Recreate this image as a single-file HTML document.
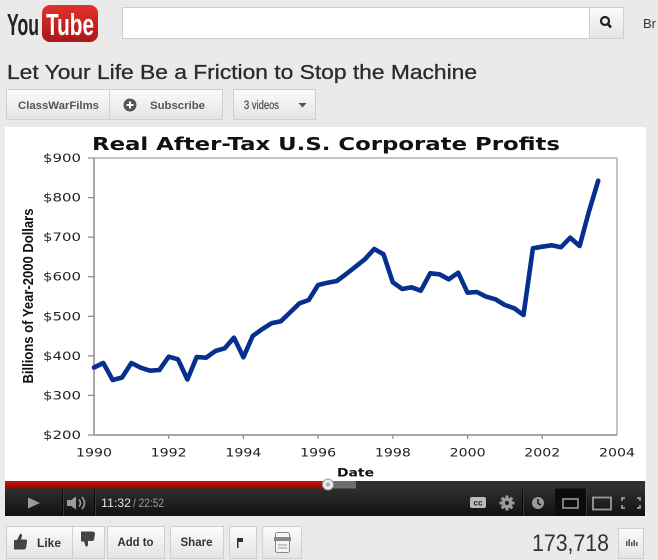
<!DOCTYPE html>
<html><head><meta charset="utf-8">
<style>
html,body{margin:0;padding:0;width:658px;height:560px;overflow:hidden;background:#eaeaea;}
svg{display:block}
</style></head><body>
<svg width="658" height="560" viewBox="0 0 658 560" xmlns="http://www.w3.org/2000/svg">
<defs>
 <linearGradient id="btn" x1="0" y1="0" x2="0" y2="1"><stop offset="0" stop-color="#fbfbfb"/><stop offset="1" stop-color="#e4e4e4"/></linearGradient>
 <linearGradient id="logo" x1="0" y1="0" x2="0" y2="1"><stop offset="0" stop-color="#e3322b"/><stop offset="1" stop-color="#a9161b"/></linearGradient>
 <linearGradient id="ctrl" x1="0" y1="0" x2="0" y2="1"><stop offset="0" stop-color="#2e2e2e"/><stop offset="1" stop-color="#121212"/></linearGradient>
 <linearGradient id="prog" x1="0" y1="0" x2="0" y2="1"><stop offset="0" stop-color="#d0120f"/><stop offset="1" stop-color="#8c0a07"/></linearGradient>
</defs>
<rect width="658" height="560" fill="#eaeaea"/>

<!-- Logo -->
<text x="7" y="35" font-family="Liberation Sans, sans-serif" font-weight="bold" font-size="31" fill="#222" textLength="32" lengthAdjust="spacingAndGlyphs">You</text>
<rect x="42" y="5" width="56" height="37" rx="8" fill="url(#logo)"/>
<text x="46" y="35" font-family="Liberation Sans, sans-serif" font-weight="bold" font-size="31" fill="#fff" textLength="48" lengthAdjust="spacingAndGlyphs">Tube</text>

<!-- Search -->
<rect x="122.5" y="7.5" width="467" height="31" fill="#fff" stroke="#cfcfcf"/>
<rect x="589.5" y="7.5" width="34" height="31" fill="url(#btn)" stroke="#cfcfcf"/>
<circle cx="605" cy="21" r="4" fill="none" stroke="#222" stroke-width="2.2"/>
<line x1="608" y1="24" x2="611" y2="27.5" stroke="#222" stroke-width="2.6"/>
<text x="643" y="28" font-family="Liberation Sans, sans-serif" font-size="13" fill="#333">Br</text>

<!-- Title -->
<text x="7" y="79" font-family="Liberation Sans, sans-serif" font-size="20" fill="#2b2b2b" stroke="#2b2b2b" stroke-width="0.3" textLength="470" lengthAdjust="spacingAndGlyphs">Let Your Life Be a Friction to Stop the Machine</text>

<!-- Channel buttons -->
<rect x="6.5" y="89.5" width="216" height="30" fill="url(#btn)" stroke="#d0d0d0"/>
<line x1="109.5" y1="90" x2="109.5" y2="119" stroke="#d0d0d0"/>
<text x="18" y="109" font-family="Liberation Sans, sans-serif" font-weight="bold" font-size="11" fill="#555" textLength="81" lengthAdjust="spacingAndGlyphs">ClassWarFilms</text>
<circle cx="130" cy="105" r="6.5" fill="#555"/>
<line x1="126.5" y1="105" x2="133.5" y2="105" stroke="#fff" stroke-width="2"/>
<line x1="130" y1="101.5" x2="130" y2="108.5" stroke="#fff" stroke-width="2"/>
<text x="150" y="109" font-family="Liberation Sans, sans-serif" font-weight="bold" font-size="11" fill="#555" textLength="55" lengthAdjust="spacingAndGlyphs">Subscribe</text>
<rect x="233.5" y="89.5" width="82" height="30" fill="url(#btn)" stroke="#d0d0d0"/>
<text x="244" y="109" font-family="Liberation Sans, sans-serif" font-size="11.5" fill="#555" stroke="#555" stroke-width="0.3" textLength="35" lengthAdjust="spacingAndGlyphs">3 videos</text>
<polygon points="298.5,103 306.5,103 302.5,107.5" fill="#555"/>

<!-- Video frame -->
<rect x="5" y="127" width="641" height="354" fill="#fff"/>

<!-- Chart -->
<text x="92" y="150" font-family="DejaVu Sans, Verdana, sans-serif" font-weight="bold" font-size="17.5" fill="#111" textLength="468" lengthAdjust="spacingAndGlyphs">Real After-Tax U.S. Corporate Profits</text>
<line x1="94" y1="158" x2="617" y2="158" stroke="#b0b0b0" stroke-width="1.5"/>
<line x1="617" y1="158" x2="617" y2="435" stroke="#b0b0b0" stroke-width="1.5"/>
<line x1="94" y1="158" x2="94" y2="435.5" stroke="#8a8a8a" stroke-width="1.5"/>
<line x1="94" y1="435" x2="617" y2="435" stroke="#8a8a8a" stroke-width="1.5"/>
<g stroke="#8a8a8a" stroke-width="1.2">
 <line x1="88" y1="158" x2="94" y2="158"/>
 <line x1="88" y1="197.6" x2="94" y2="197.6"/>
 <line x1="88" y1="237.1" x2="94" y2="237.1"/>
 <line x1="88" y1="276.7" x2="94" y2="276.7"/>
 <line x1="88" y1="316.3" x2="94" y2="316.3"/>
 <line x1="88" y1="355.9" x2="94" y2="355.9"/>
 <line x1="88" y1="395.4" x2="94" y2="395.4"/>
 <line x1="88" y1="435" x2="94" y2="435"/>
 <line x1="168.7" y1="435" x2="168.7" y2="439"/>
 <line x1="243.4" y1="435" x2="243.4" y2="439"/>
 <line x1="318.1" y1="435" x2="318.1" y2="439"/>
 <line x1="392.9" y1="435" x2="392.9" y2="439"/>
 <line x1="467.6" y1="435" x2="467.6" y2="439"/>
 <line x1="542.3" y1="435" x2="542.3" y2="439"/>
</g>
<g font-family="DejaVu Sans, Verdana, sans-serif" font-size="11.5" fill="#222" text-anchor="end">
 <text x="81" y="162" textLength="38" lengthAdjust="spacingAndGlyphs">$900</text>
 <text x="81" y="201.6" textLength="38" lengthAdjust="spacingAndGlyphs">$800</text>
 <text x="81" y="241.1" textLength="38" lengthAdjust="spacingAndGlyphs">$700</text>
 <text x="81" y="280.7" textLength="38" lengthAdjust="spacingAndGlyphs">$600</text>
 <text x="81" y="320.3" textLength="38" lengthAdjust="spacingAndGlyphs">$500</text>
 <text x="81" y="359.9" textLength="38" lengthAdjust="spacingAndGlyphs">$400</text>
 <text x="81" y="399.4" textLength="38" lengthAdjust="spacingAndGlyphs">$300</text>
 <text x="81" y="439" textLength="38" lengthAdjust="spacingAndGlyphs">$200</text>
</g>
<g font-family="DejaVu Sans, Verdana, sans-serif" font-size="11.5" fill="#222" text-anchor="middle">
 <text x="94" y="456.5" textLength="36" lengthAdjust="spacingAndGlyphs">1990</text>
 <text x="168.7" y="456.5" textLength="36" lengthAdjust="spacingAndGlyphs">1992</text>
 <text x="243.4" y="456.5" textLength="36" lengthAdjust="spacingAndGlyphs">1994</text>
 <text x="318.1" y="456.5" textLength="36" lengthAdjust="spacingAndGlyphs">1996</text>
 <text x="392.9" y="456.5" textLength="36" lengthAdjust="spacingAndGlyphs">1998</text>
 <text x="467.6" y="456.5" textLength="36" lengthAdjust="spacingAndGlyphs">2000</text>
 <text x="542.3" y="456.5" textLength="36" lengthAdjust="spacingAndGlyphs">2002</text>
 <text x="617" y="456.5" textLength="36" lengthAdjust="spacingAndGlyphs">2004</text>
</g>
<text x="355.5" y="476.5" font-family="DejaVu Sans, Verdana, sans-serif" font-weight="bold" font-size="11.5" fill="#111" text-anchor="middle" textLength="37" lengthAdjust="spacingAndGlyphs">Date</text>
<text transform="translate(33,296) rotate(-90)" font-family="Liberation Sans, sans-serif" font-weight="bold" font-size="14.5" fill="#111" text-anchor="middle" textLength="175" lengthAdjust="spacingAndGlyphs">Billions of Year-2000 Dollars</text>

<polyline fill="none" stroke="#07308e" stroke-width="4.6" stroke-linejoin="round" stroke-linecap="round" points="
94,367.5 103.3,363 112.7,380 122,377.5 131.4,363 140.7,367.7 150,370.7 159.4,370
168.7,356.7 178,359.3 187.4,379.5 196.7,357 206,357.7 215.4,351 224.7,348.3 234,337.7
243.4,357.3 252.7,336 262,329.3 271.4,323.3 280.8,321.3 290,312.5 299.5,303.3 308.8,300
318.1,285 327.5,282.7 336.8,281 346.2,274 355.5,266.7 364.8,259.3 374.2,249 383.5,254.3
392.8,282.3 402.2,289 411.5,287.3 420.8,290.7 430.2,273.3 439.5,274.3 448.8,279.3 458.2,272.7
467.5,292.7 476.9,292 486.2,296.7 495.5,299.3 504.9,305 514.2,308.3 523.5,315
532.9,248.3 542.2,246.7 551.6,245.3 560.9,247.3 570.2,237.7 579.6,246 588.9,211.7 598.2,180.7"/>

<!-- Progress bar -->
<rect x="5" y="481" width="640" height="7.5" fill="#303030"/>
<rect x="328" y="481" width="28" height="7.5" fill="#6e6e6e"/>
<rect x="5" y="481" width="323" height="7.5" fill="url(#prog)"/>
<!-- Control bar -->
<rect x="5" y="488.5" width="640" height="27.5" fill="url(#ctrl)"/>
<rect x="555" y="488.5" width="30" height="27.5" fill="#0c0c0c"/>
<g stroke-width="1">
 <line x1="62.5" y1="489" x2="62.5" y2="516" stroke="#0a0a0a"/><line x1="63.5" y1="489" x2="63.5" y2="516" stroke="#383838"/>
 <line x1="94.5" y1="489" x2="94.5" y2="516" stroke="#0a0a0a"/><line x1="95.5" y1="489" x2="95.5" y2="516" stroke="#383838"/>
 <line x1="522.5" y1="489" x2="522.5" y2="516" stroke="#0a0a0a"/><line x1="523.5" y1="489" x2="523.5" y2="516" stroke="#383838"/>
 <line x1="585.5" y1="489" x2="585.5" y2="516" stroke="#0a0a0a"/><line x1="586.5" y1="489" x2="586.5" y2="516" stroke="#383838"/>
</g>
<circle cx="328" cy="484.5" r="5.5" fill="#ececec" stroke="#9a9a9a" stroke-width="1"/>
<circle cx="328" cy="484.5" r="2" fill="#aaa"/>
<polygon points="28,497.5 40,503 28,508.5" fill="#9b9b9b"/>
<polygon points="67,500 71,500 76,496.5 76,509.5 71,506 67,506" fill="#9b9b9b"/>
<path d="M79,499.5 Q82,503 79,506.5" fill="none" stroke="#9b9b9b" stroke-width="1.6"/>
<path d="M82,497 Q87,503 82,509" fill="none" stroke="#9b9b9b" stroke-width="1.6"/>
<text x="101" y="507" font-family="Liberation Sans, sans-serif" font-size="12" fill="#e0e0e0" textLength="30" lengthAdjust="spacingAndGlyphs">11:32</text>
<text x="133" y="507" font-family="Liberation Sans, sans-serif" font-size="12" fill="#9a9a9a" textLength="31" lengthAdjust="spacingAndGlyphs">/ 22:52</text>
<rect x="470" y="497" width="16" height="11" rx="2" fill="#bbb"/>
<text x="478" y="505.5" font-family="Liberation Sans, sans-serif" font-weight="bold" font-size="8" fill="#222" text-anchor="middle">cc</text>
<circle cx="507" cy="503" r="5.5" fill="#9a9a9a"/>
<g stroke="#9a9a9a" stroke-width="3"><line x1="507" y1="495.5" x2="507" y2="510.5"/><line x1="499.5" y1="503" x2="514.5" y2="503"/><line x1="501.7" y1="497.7" x2="512.3" y2="508.3"/><line x1="512.3" y1="497.7" x2="501.7" y2="508.3"/></g>
<circle cx="507" cy="503" r="2" fill="#1e1e1e"/>
<circle cx="538" cy="503" r="6" fill="#9a9a9a"/>
<path d="M538,499 L538,503.5 L541,505" fill="none" stroke="#1e1e1e" stroke-width="1.6"/>
<rect x="563" y="499" width="15" height="9" fill="none" stroke="#8a8a8a" stroke-width="1.8"/>
<rect x="593" y="497.5" width="18" height="12" fill="none" stroke="#9a9a9a" stroke-width="1.8"/>
<g fill="none" stroke="#9a9a9a" stroke-width="1.8">
 <path d="M622,501 L622,498 L625,498"/><path d="M637,498 L640,498 L640,501"/>
 <path d="M622,505 L622,508 L625,508"/><path d="M637,508 L640,508 L640,505"/>
</g>

<!-- Bottom buttons -->
<g fill="url(#btn)" stroke="#cfcfcf">
 <rect x="6.5" y="526.5" width="98" height="32"/>
 <rect x="107.5" y="526.5" width="57" height="32"/>
 <rect x="170.5" y="526.5" width="53" height="32"/>
 <rect x="229.5" y="526.5" width="27" height="32"/>
 <rect x="262.5" y="526.5" width="39" height="32"/>
 <rect x="618.5" y="528.5" width="25" height="30"/>
</g>
<line x1="72.5" y1="527" x2="72.5" y2="558" stroke="#cfcfcf"/>
<path d="M14,540 L17,540 L20,534 Q22,533 22,536 L21,539.5 L26,539.5 Q27.5,540 27,542 L26,548 Q25.5,549.5 24,549.5 L14,549.5 Z" fill="#444"/>
<text x="37" y="547" font-family="Liberation Sans, sans-serif" font-weight="bold" font-size="12" fill="#333" textLength="24" lengthAdjust="spacingAndGlyphs">Like</text>
<path d="M81,531.5 L93,531.5 Q95,532 95,534 L94,540 Q93.5,541 92,541 L88,541 L88,545 Q87,548 85.5,546 L84,541.5 L81,541.5 Z" fill="#444"/>
<text x="135.5" y="546" font-family="Liberation Sans, sans-serif" font-weight="bold" font-size="12" fill="#333" text-anchor="middle" textLength="36" lengthAdjust="spacingAndGlyphs">Add to</text>
<text x="196.5" y="546" font-family="Liberation Sans, sans-serif" font-weight="bold" font-size="12" fill="#333" text-anchor="middle" textLength="32" lengthAdjust="spacingAndGlyphs">Share</text>
<rect x="237" y="538" width="1.5" height="10" fill="#333"/>
<rect x="238.5" y="538" width="4.5" height="4" fill="#333"/>
<rect x="275.5" y="532.5" width="14" height="20" rx="2" fill="#f4f4f4" stroke="#888"/>
<rect x="274" y="537" width="17" height="4" fill="#888"/>
<line x1="278" y1="545" x2="287" y2="545" stroke="#999"/>
<line x1="278" y1="548" x2="287" y2="548" stroke="#999"/>
<text x="532" y="551" font-family="Liberation Sans, sans-serif" font-size="24" fill="#333" textLength="77" lengthAdjust="spacingAndGlyphs">173,718</text>
<g fill="#555">
 <rect x="626" y="541" width="1.5" height="5"/>
 <rect x="628.5" y="539" width="1.5" height="7"/>
 <rect x="631" y="542" width="1.5" height="4"/>
 <rect x="633.5" y="540" width="1.5" height="6"/>
 <rect x="636" y="542" width="1.5" height="4"/>
</g>
</svg>
</body></html>
